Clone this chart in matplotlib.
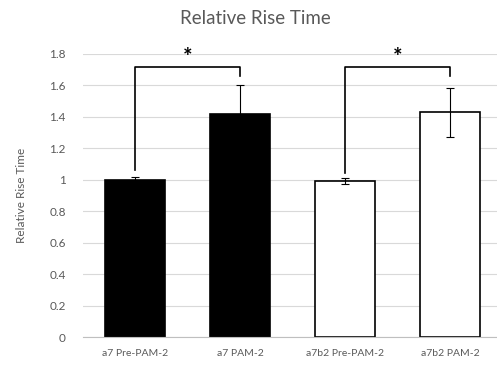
import matplotlib.pyplot as plt
import numpy as np

plt.rcParams['font.family'] = ['Lato', 'DejaVu Sans']

categories = ['a7 Pre-PAM-2', 'a7 PAM-2', 'a7b2 Pre-PAM-2', 'a7b2 PAM-2']
values = [1.0, 1.42, 0.99, 1.43]
errors = [0.02, 0.18, 0.02, 0.155]
fills = ['black', 'black', 'white', 'white']
yticks = [0, 0.2, 0.4, 0.6, 0.8, 1, 1.2, 1.4, 1.6, 1.8]
ytick_labels = ['0', '0.2', '0.4', '0.6', '0.8', '1', '1.2', '1.4', '1.6', '1.8']
# significance brackets: (left bar, right bar, top, left leg end, right leg end)
brackets = [(0, 1, 1.72, 1.06, 1.66), (2, 3, 1.72, 1.045, 1.66)]

fig = plt.figure(figsize=(4.97, 3.67), dpi=100)
ax = fig.add_axes([82.5 / 497, 30 / 367, 420 / 497, 283 / 367])

x = np.arange(len(categories))
ax.bar(x, values, width=0.57, color=fills, edgecolor='black', linewidth=1.2, zorder=2)
ax.errorbar(x, values, yerr=errors, fmt='none', ecolor='black', elinewidth=0.8,
            capsize=3, capthick=0.8, zorder=3)

for left, right, top, lend, rend in brackets:
    ax.plot([left, left, right, right], [lend, top, top, rend], color='black', lw=1.2,
            zorder=4, clip_on=False)
    ax.text((left + right) / 2, top + 0.06, '*', ha='center', va='center', fontsize=16,
            fontweight='bold', color='black', clip_on=False)

ax.set_xlim(-0.5, 3.5)
ax.set_ylim(0, 1.8)
ax.set_yticks(yticks)
ax.set_yticklabels(ytick_labels)
ax.set_xticks(x)
ax.set_xticklabels(categories)
ax.yaxis.grid(True, color='#d9d9d9', lw=0.8, zorder=0)
ax.set_axisbelow(True)
for s in ['top', 'right', 'left']:
    ax.spines[s].set_visible(False)
ax.spines['bottom'].set_color('#bfbfbf')
ax.tick_params(axis='y', length=0, colors='#595959', labelsize=8.5, pad=12)
ax.tick_params(axis='x', length=0, colors='#595959', labelsize=7.5, pad=9)
ax.set_ylabel('Relative Rise Time', color='#595959', fontsize=8.5, labelpad=16)
fig.text(255 / 497, 1 - 18 / 367, 'Relative Rise Time', ha='center', va='center',
         fontsize=13.5, color='#595959')

fig.savefig('out.png', dpi=100)
